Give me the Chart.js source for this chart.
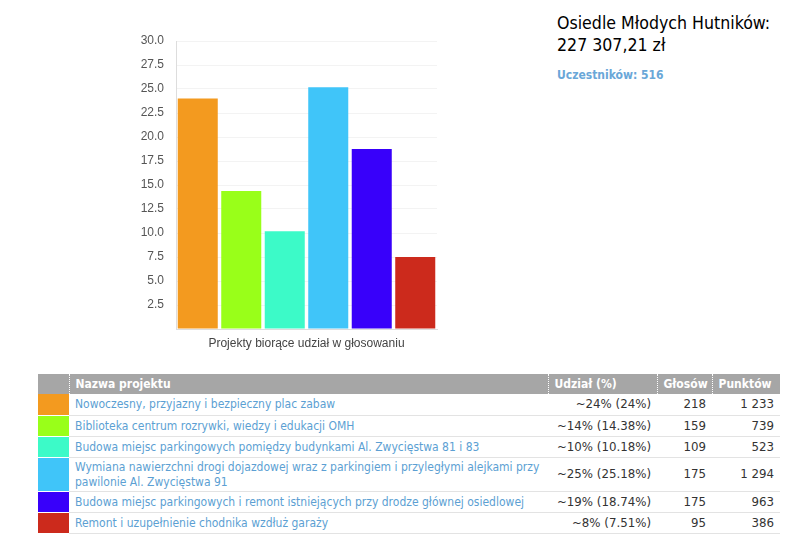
<!DOCTYPE html>
<html>
<head>
<meta charset="utf-8">
<script src="https://cdn.jsdelivr.net/npm/chart.js@4/dist/chart.umd.min.js"></script>
<style>
  body { margin: 0; background: #fff; font-family: "DejaVu Sans Condensed", "DejaVu Sans", sans-serif; }
  #wrap { position: relative; width: 786px; height: 534px; overflow: hidden; }
  #chartBox { position: absolute; left: 0; top: 0; width: 460px; height: 360px; }
  #info { position: absolute; left: 557px; top: 12px; color: #000; }
  #info .title { font-size: 17.6px; line-height: 22px; }
  #info .people { margin-top: 12px; font-size: 12px; font-weight: bold; color: #6aa7d8; }
  table { position: absolute; left: 38px; top: 374px; width: 742px; border-collapse: collapse; font-size: 12px; table-layout: fixed; }
  thead tr { height: 20px; }
  tbody tr { height: 21px; }
  th { background: #a6a6a6; color: #fff; text-align: left; line-height: 14px; padding: 0 6px; font-weight: bold; border-left: 1px dotted #fff; white-space: nowrap; }
  th:first-child { border-left: none; }
  td { line-height: 14px; padding: 0 6px; border-bottom: 1px solid #e3e3e3; color: #333; white-space: nowrap; }
  td.sw { padding: 0; border-bottom: 1px solid #fff; }
  td.name { color: #5c9fd3; line-height: 15px; padding: 2px 6px 1px 6px; white-space: normal; }
  td.num { text-align: right; font-family: "DejaVu Sans", sans-serif; font-size: 11.8px; }
</style>
</head>
<body>
<div id="wrap">
  <div id="chartBox"><canvas id="myChart"></canvas></div>
  <div id="info">
    <div class="title">Osiedle Młodych Hutników:<br>227 307,21 zł</div>
    <div class="people">Uczestników: 516</div>
  </div>
  <table id="tbl">
    <colgroup><col style="width:31px"><col style="width:479px"><col style="width:109px"><col style="width:55px"><col style="width:68px"></colgroup>
    <thead><tr><th></th><th>Nazwa projektu</th><th>Udział (%)</th><th>Głosów</th><th>Punktów</th></tr></thead>
    <tbody></tbody>
  </table>
</div>
<script>
const projects = [
  "Nowoczesny, przyjazny i bezpieczny plac zabaw",
  "Biblioteka centrum rozrywki, wiedzy i edukacji OMH",
  "Budowa miejsc parkingowych pomiędzy budynkami Al. Zwycięstwa 81 i 83",
  "Wymiana nawierzchni drogi dojazdowej wraz z parkingiem i przyległymi alejkami przy pawilonie Al. Zwycięstwa 91",
  "Budowa miejsc parkingowych i remont istniejących przy drodze głównej osiedlowej",
  "Remont i uzupełnienie chodnika wzdłuż garaży"
];
const shares = [24, 14.38, 10.18, 25.18, 18.74, 7.51];
const votes = [218, 159, 109, 175, 175, 95];
const points = ["1 233", "739", "523", "1 294", "963", "386"];
const colors = ["#f39a1f", "#99ff19", "#3cfac8", "#40c5f9", "#3800fa", "#cc2a1c"];
const xTitle = "Projekty biorące udział w głosowaniu";

// table
const tbody = document.querySelector("#tbl tbody");
projects.forEach((p, i) => {
  const tr = document.createElement("tr");
  tr.innerHTML =
    '<td class="sw" style="background:' + colors[i] + '"></td>' +
    '<td class="name">' + p + '</td>' +
    '<td class="num">~' + Math.round(shares[i]) + '% (' + shares[i] + '%)</td>' +
    '<td class="num">' + votes[i] + '</td>' +
    '<td class="num">' + points[i] + '</td>';
  tbody.appendChild(tr);
});

// chart
const ctx = document.getElementById("myChart").getContext("2d");
new Chart(ctx, {
  type: "bar",
  data: {
    labels: projects,
    datasets: [{
      data: shares,
      backgroundColor: colors,
      borderWidth: 0,
      barPercentage: 0.92,
      categoryPercentage: 1
    }]
  },
  options: {
    responsive: true,
    maintainAspectRatio: false,
    animation: false,
    layout: { padding: { top: 41, right: 23, left: 0, bottom: 0 } },
    plugins: { legend: { display: false }, tooltip: { enabled: false } },
    scales: {
      x: {
        ticks: { display: false },
        grid: {
          color: (c) => c.index === 6 ? "#efefef" : "rgba(0,0,0,0)",
          drawTicks: false
        },
        border: { color: "#dddddd" },
        title: {
          display: true, text: xTitle, color: "#444",
          font: { family: "Liberation Sans, Arial", size: 12 },
          padding: { top: 6, bottom: 9 }
        },
        afterFit: (s) => { s.height = 31; }
      },
      y: {
        min: 0, max: 30,
        ticks: {
          stepSize: 2.5, color: "#555", padding: 12,
          font: { family: "Liberation Sans, Arial", size: 12 },
          callback: (v) => v === 0 ? "" : v.toFixed(1)
        },
        grid: { color: "#f3f3f3", drawTicks: false },
        border: { color: "#dddddd" },
        afterFit: (s) => { s.width = 176; }
      }
    }
  }
});
</script>
</body>
</html>
